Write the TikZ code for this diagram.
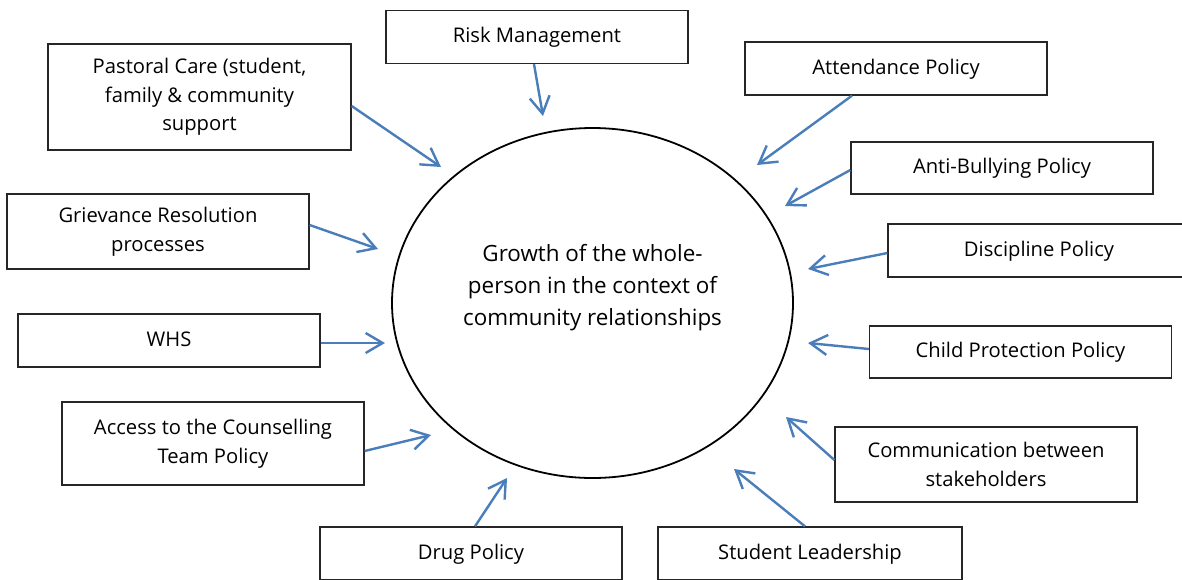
\documentclass[tikz,border=0pt]{standalone}
\usepackage{fontspec}
\setmainfont{Open Sans}
\usetikzlibrary{arrows.meta}
\definecolor{linkblue}{HTML}{4A7EBB}
\begin{document}
\begin{tikzpicture}[x=1pt,y=-1pt,
  box/.style={draw=black!85, line width=1.3pt, fill=white, minimum width=302pt,
    minimum height=53pt, align=center, inner sep=0pt,
    font=\fontsize{20.2}{28.5}\selectfont},
  feed/.style={draw=linkblue, line width=2.4pt,
    -{Straight Barb[length=17pt,width=20pt,line width=2.4pt]}}]
\useasboundingbox (0,0) rectangle (1182,579);
\clip (0,0) rectangle (1182,579);
\fill[white] (0,0) rectangle (1182,579);

% central ellipse
\draw[line width=1.8pt] (592.5,303) ellipse [x radius=200.5, y radius=175];
\node[align=center, font=\fontsize{22.4}{32}\selectfont] (core) at (592.5,288)
  {Growth of the whole-\\person in the context of\\community relationships};

% surrounding policy boxes
\node[box] (risk) at (537,37) {\strut Risk Management};
\node[box] (att) at (896,68.5) {\strut Attendance Policy};
\node[box, minimum width=303pt, minimum height=106pt] (pc) at (199.5,97)
  {Pastoral Care (student,\\family \& community\\support};
\node[box, minimum height=52pt] (ab) at (1002,168) {\strut Anti-Bullying Policy};
\node[box, minimum height=75pt] (gr) at (158,231.5) {Grievance Resolution\\processes};
\node[box] (dp) at (1039,250.5) {\strut Discipline Policy};
\node[box] (whs) at (169,340.5) {\strut WHS};
\node[box, minimum height=52pt] (cp) at (1020.5,352) {\strut Child Protection Policy};
\node[box, minimum height=83pt] (co) at (213,443.5) {Access to the Counselling\\Team Policy};
\node[box, minimum height=75pt] (cm) at (986,464.5) {Communication between\\stakeholders};
\node[box] (drug) at (471,553.5) {\strut Drug Policy};
\node[box, minimum width=304pt] (sl) at (810,553.5) {\strut Student Leadership};

% arrow tips around the ellipse
\coordinate (tRisk) at (543,116);
\coordinate (tAtt) at (757,165);
\coordinate (tPc) at (441,167);
\coordinate (tAb) at (785,206);
\coordinate (tGr) at (378,249);
\coordinate (tDp) at (808,269);
\coordinate (tWhs) at (385,343);
\coordinate (tCp) at (808,343);
\coordinate (tCo) at (431,435);
\coordinate (tCm) at (786,417);
\coordinate (tDrug) at (507,478);
\coordinate (tSl) at (734,469);

% connectors from each box towards the centre
\draw[feed] ([xshift=-3pt]risk.south) -- (tRisk);
\draw[feed] ([xshift=-44pt]att.south) -- (tAtt);
\draw[feed] ([yshift=-9pt]pc.east) -- (tPc);
\draw[feed] ([yshift=-2pt]ab.west) -- (tAb);
\draw[feed] ([yshift=6.5pt]gr.east) -- (tGr);
\draw[feed] ([yshift=-2.5pt]dp.west) -- (tDp);
\draw[feed] ([yshift=-2.5pt]whs.east) -- (tWhs);
\draw[feed] ([yshift=3pt]cp.west) -- (tCp);
\draw[feed] ([yshift=-7.5pt]co.east) -- (tCo);
\draw[feed] ([yshift=4.5pt]cm.west) -- (tCm);
\draw[feed] ([xshift=4pt]drug.north) -- (tDrug);
\draw[feed] ([xshift=-5pt]sl.north) -- (tSl);
\end{tikzpicture}
\end{document}
